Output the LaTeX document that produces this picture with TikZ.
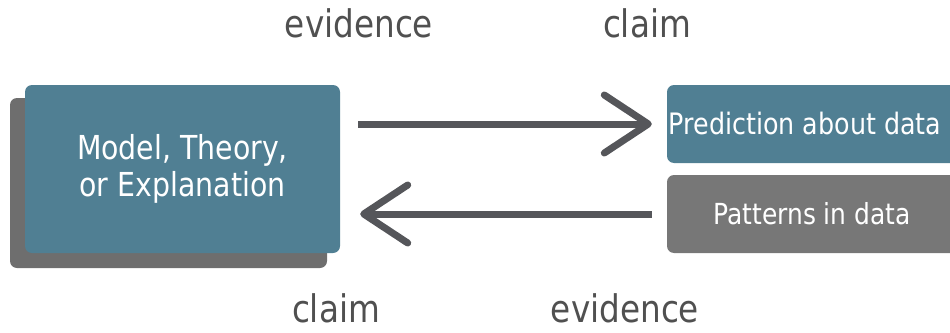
\documentclass[tikz,border=0pt]{standalone}
\usepackage{fontspec}
\setmainfont[FakeStretch=0.86]{DejaVu Sans}
\usetikzlibrary{arrows.meta,positioning}
\definecolor{tealbox}{HTML}{507F93}
\definecolor{shadowgray}{HTML}{6E6E6E}
\definecolor{databox}{HTML}{777777}
\definecolor{arrowgray}{HTML}{55565A}
\definecolor{labelgray}{HTML}{505050}
\begin{document}
\begin{tikzpicture}[x=1pt, y=-1pt,
        box/.style={rectangle, rounded corners=7pt, text=white, align=center, inner sep=0pt},
        flow/.style={arrowgray, line width=7pt, -{Straight Barb[length=44pt, width=58pt, round]}},
        lbl/.style={labelgray, anchor=base, inner sep=0pt, text depth=0pt, font=\fontsize{38}{44}\selectfont}]
    \useasboundingbox (0,0) rectangle (950,332);
    \begin{scope}
        \clip (0,0) rectangle (950,332);

        % shadow behind the model box
        \node[box, fill=shadowgray, minimum width=317pt, minimum height=170pt] (shadow) at (168.5,183) {};
        \node[box, fill=tealbox, minimum width=315pt, minimum height=168pt,
            font=\fontsize{33}{37}\selectfont] (model) at (182.5,169) {Model, Theory,\\ or Explanation};

        \node[box, fill=tealbox, minimum width=290pt, minimum height=78pt,
            font=\fontsize{29.5}{34}\selectfont] (pred) at (812,124) {\hspace*{-14pt}Prediction about data};
        \node[box, fill=databox, minimum width=290pt, minimum height=78pt,
            font=\fontsize{29}{34}\selectfont] (pat) at (812,214) {Patterns in data};
    \end{scope}

    \draw[flow, shorten <=18pt, shorten >=15pt] (model.east |- pred.west) -- (pred.west);
    \draw[flow, shorten <=15pt, shorten >=20pt] (pat.west) -- (model.east |- pat.west);

    \node[lbl] (ev1) at (359,37) {evidence};
    \node[lbl] (cl1) at (647,37) {claim};
    \node[lbl] (cl2) at (336,322) {claim};
    \node[lbl] (ev2) at (625,322) {evidence};
\end{tikzpicture}
\end{document}
